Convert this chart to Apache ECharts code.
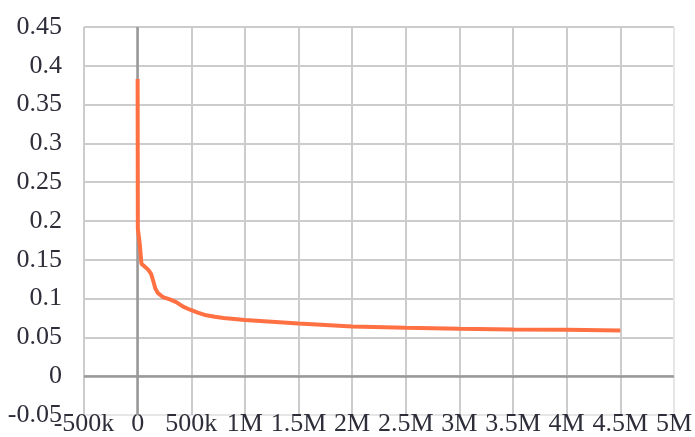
<!DOCTYPE html>
<html>
<head>
<meta charset="utf-8">
<script src="https://cdn.jsdelivr.net/npm/echarts@6/dist/echarts.min.js"></script>
<style>html,body{margin:0;padding:0;background:#fff}#c{width:695px;height:437px}</style>
</head>
<body>
<div id="c"></div>
<script>
const xValues = [0, 2000, 20000, 35000, 60000, 100000, 125000, 145000, 165000, 190000, 235000, 300000, 360000, 420000, 483000, 560000, 640000, 720000, 800000, 1000000, 1500000, 2000000, 2500000, 3000000, 3500000, 4000000, 4500000];
const yValues = [0.383, 0.19, 0.17, 0.145, 0.142, 0.137, 0.132, 0.123, 0.113, 0.107, 0.102, 0.099, 0.0955, 0.09, 0.086, 0.082, 0.0785, 0.0765, 0.075, 0.0725, 0.068, 0.064, 0.0625, 0.0613, 0.0603, 0.0597, 0.059];
const xTickLabels = {"-500000":"-500k","0":"0","500000":"500k","1000000":"1M","1500000":"1.5M","2000000":"2M","2500000":"2.5M","3000000":"3M","3500000":"3.5M","4000000":"4M","4500000":"4.5M","5000000":"5M"};

const chart = echarts.init(document.getElementById('c'), null, {renderer:'canvas'});
const font = '"Liberation Serif", "Times New Roman", serif';
const G = '#cccccc', L = '#e6e6e6';
chart.setOption({
  animation:false,
  grid:{left:84, right:18, top:27, bottom:22, containLabel:false},
  xAxis:{
    type:'value', min:-500000, max:5000000, interval:500000,
    axisLine:{show:false}, axisTick:{show:false},
    axisLabel:{fontFamily:font, fontSize:26, color:'#2e2e3a', margin:-4,
      formatter:v=>xTickLabels[String(v)] ?? String(v), showMaxLabel:true, showMinLabel:true, hideOverlap:false},
    splitLine:{show:true, lineStyle:{color:[G,G,G,G,G,G,G,G,G,G,G,L], width:2}}
  },
  yAxis:{
    type:'value', min:-0.05, max:0.45, interval:0.05,
    axisLine:{show:false}, axisTick:{show:false},
    axisLabel:{fontFamily:font, fontSize:26, color:'#2e2e3a', margin:22,
      verticalAlign:'middle', padding:[0,0,17,0],
      formatter:v=>String(Math.round(v*100)/100)},
    splitLine:{show:true, lineStyle:{color:[L,G,G,G,G,G,G,G,G,G,G], width:2}}
  },
  series:[
    {type:'line', data:[], z:1, silent:true,
     markLine:{z:1, silent:true, symbol:'none', label:{show:false}, animation:false,
       lineStyle:{color:'#999999', width:2.5, type:'solid'},
       data:[{xAxis:0},{yAxis:0}]}},
    {type:'line', z:3, showSymbol:false, symbol:'none',
     data:xValues.map((x,i)=>[x,yValues[i]]),
     lineStyle:{color:'#ff7043', width:4}, itemStyle:{color:'#ff7043'}}
  ]
});
</script>
</body>
</html>
